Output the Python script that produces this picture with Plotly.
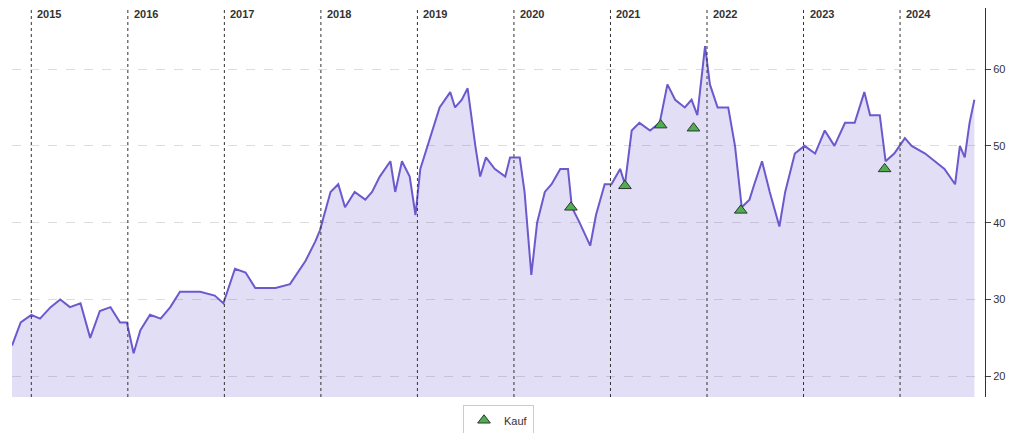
import plotly.graph_objects as go

t = [2014.80,2014.89,2015.0,2015.09,2015.20,2015.30,2015.40,2015.51,2015.61,2015.71,2015.82,2015.92,2015.99,2016.06,2016.13,2016.23,2016.34,2016.44,2016.54,2016.75,2016.90,2016.99,2017.11,2017.22,2017.32,2017.53,2017.68,2017.84,2017.94,2017.99,2018.10,2018.18,2018.25,2018.35,2018.46,2018.53,2018.61,2018.72,2018.77,2018.84,2018.92,2018.98,2019.03,2019.13,2019.23,2019.34,2019.39,2019.46,2019.52,2019.60,2019.65,2019.71,2019.80,2019.91,2019.96,2020.06,2020.11,2020.18,2020.24,2020.32,2020.39,2020.48,2020.56,2020.60,2020.68,2020.79,2020.85,2020.94,2021.01,2021.10,2021.15,2021.22,2021.30,2021.41,2021.51,2021.59,2021.67,2021.77,2021.84,2021.90,2021.98,2022.03,2022.11,2022.22,2022.29,2022.36,2022.44,2022.49,2022.57,2022.65,2022.75,2022.81,2022.91,2023.01,2023.12,2023.22,2023.32,2023.43,2023.53,2023.63,2023.69,2023.79,2023.85,2023.94,2024.05,2024.12,2024.26,2024.36,2024.46,2024.57,2024.62,2024.67,2024.72,2024.77]
price = [24,27,28,27.5,29,30,29,29.5,25,28.5,29,27,27,23,26,28,27.5,29,31,31,30.5,29.5,34,33.5,31.5,31.5,32,35,37.5,39,44,45,42,44,43,44,46,48,44,48,46,41,47,51,55,57,55,56,57.5,50,46,48.5,47,46,48.5,48.5,44,33.2,40,44,45,47,47,42,40,37,41,45,45,47,45,52,53,52,53,58,56,55,56,54,63,58,55,55,50,42,43,45,48,44,39.5,44,49,50,49,52,50,53,53,57,54,54,48,49,51,50,49,48,47,45,50,48.5,53,56]

buy_t = [2020.59,2021.15,2021.52,2021.86,2022.35,2023.84]
buy_p = [42.0,44.8,52.7,52.3,41.6,47.0]

years = list(range(2015, 2025))

fig = go.Figure()
fig.add_trace(go.Scatter(x=t, y=price, mode="lines", line=dict(color="#6a5acd", width=2),
                         fill="tozeroy", fillcolor="rgba(106,90,205,0.2)", showlegend=False, hoverinfo="skip"))
fig.add_trace(go.Scatter(x=buy_t, y=buy_p, mode="markers", name="Kauf",
                         marker=dict(symbol="triangle-up", size=11, color="#4caf50", line=dict(color="#333", width=1))))
for y in years:
    fig.add_vline(x=y, line=dict(color="#333", width=1, dash="dot"))
    fig.add_annotation(x=y, y=1, yref="paper", yanchor="top", xanchor="left", xshift=4, yshift=2,
                       text="<b>%d</b>" % y, showarrow=False, font=dict(size=11, color="#333"))
fig.update_layout(
    width=1024, height=433, margin=dict(l=4, r=47, t=0, b=44),
    plot_bgcolor="white", paper_bgcolor="white",
    font=dict(family="Liberation Sans, Arial", size=11, color="#333"),
    xaxis=dict(range=[2014.8, 2024.88], showticklabels=False, showgrid=False, zeroline=False),
    yaxis=dict(side="right", range=[17.3, 67.95], tickvals=[20,30,40,50,60], showgrid=True,
               gridcolor="#ddd", griddash="dash", zeroline=False, showline=True, linecolor="#333",
               ticks="outside", ticklen=5),
    legend=dict(orientation="h", x=0.5, xanchor="center", y=-0.02, yanchor="top",
                bordercolor="#ccc", borderwidth=1),
)
fig.write_html("out.html")
